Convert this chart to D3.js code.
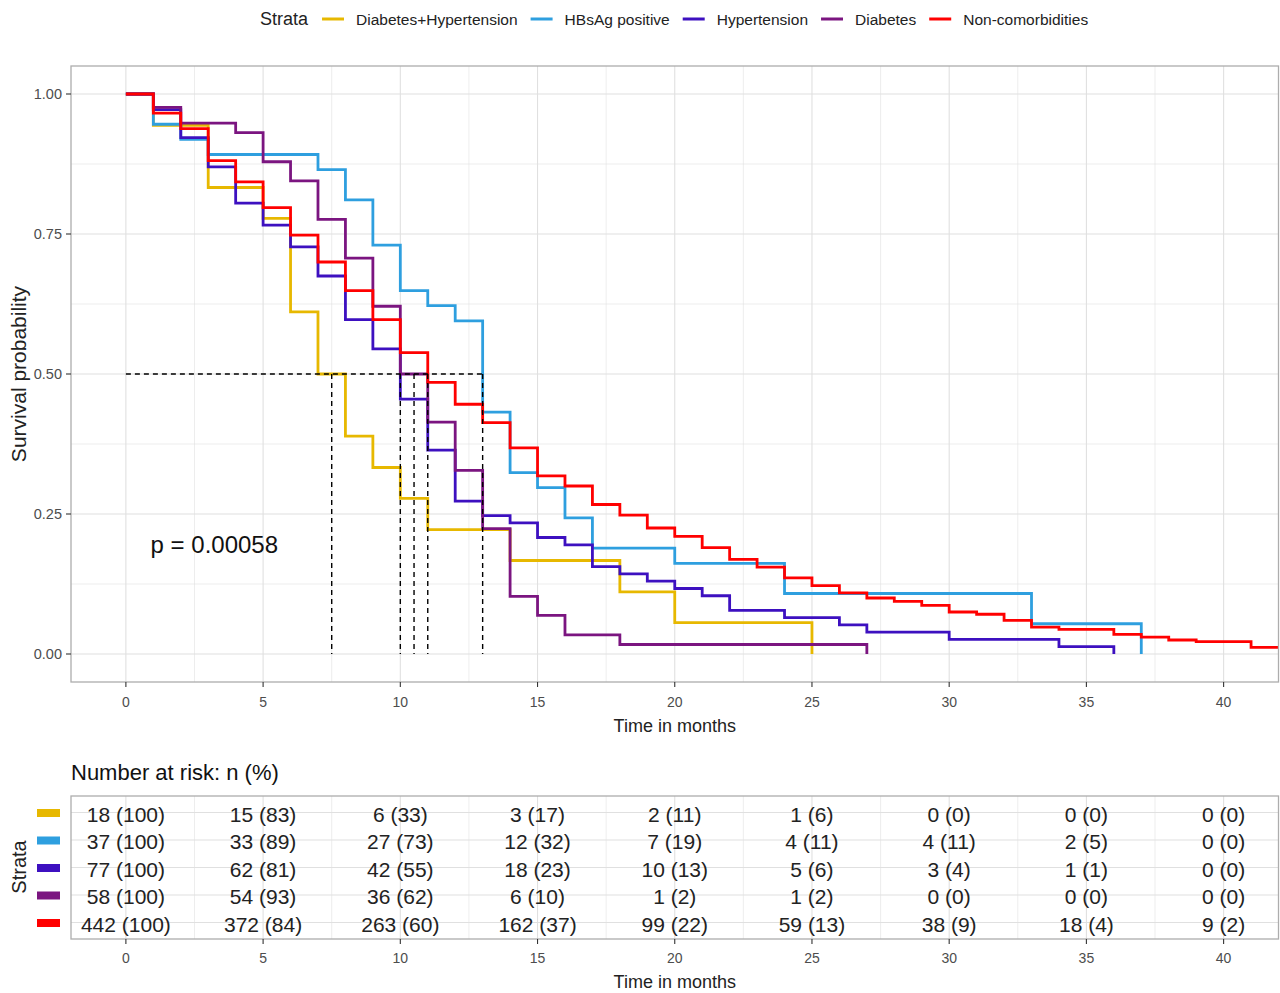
<!DOCTYPE html>
<html>
<head>
<meta charset="utf-8">
<script src="https://cdn.jsdelivr.net/npm/d3@7"></script>
<style>
body{margin:0;background:#fff;}
svg{font-family:"Liberation Sans",Arial,sans-serif;}
</style>
</head>
<body>
<svg id="chart" width="1280" height="993"></svg>
<script>
// strata, in the order ggplot draws them
var strata = ['Diabetes+Hypertension','HBsAg positive','Hypertension','Diabetes','Non-comorbidities']
var colors = ['#E7B800','#2E9FDF','#3D10C0','#7B1580','#FF0000']

// KM steps (time in months, survival)
var dhTime = [0,1,3,5,6,7,8,9,10,11,14,18,20,25]
var dhSurv = [1,0.944,0.833,0.778,0.611,0.5,0.389,0.333,0.278,0.222,0.167,0.111,0.056,0]
var hbTime = [0,1,2,3,7,8,9,10,11,12,13,14,15,16,17,20,24,33,37]
var hbSurv = [1,0.946,0.919,0.892,0.865,0.811,0.730,0.649,0.622,0.595,0.432,0.324,0.297,0.243,0.189,0.162,0.108,0.054,0]
var hyTime = [0,1,2,3,4,5,6,7,8,9,10,11,12,13,14,15,16,17,18,19,20,21,22,24,26,27,30,34,36]
var hySurv = [1,0.972,0.922,0.870,0.805,0.766,0.727,0.675,0.597,0.545,0.455,0.364,0.273,0.247,0.234,0.208,0.195,0.156,0.143,0.130,0.117,0.104,0.078,0.065,0.052,0.039,0.026,0.013,0]
var diTime = [0,1,2,4,5,6,7,8,9,10,11,12,13,14,15,16,18,27]
var diSurv = [1,0.976,0.948,0.931,0.879,0.845,0.776,0.707,0.621,0.5,0.414,0.328,0.224,0.103,0.069,0.034,0.017,0]
var ncTime = [0,1,2,3,4,5,6,7,8,9,10,11,12,13,14,15,16,17,18,19,20,21,22,23,24,25,26,27,28,29,30,31,32,33,34,36,37,38,39,41,43]
var ncSurv = [1,0.966,0.938,0.881,0.843,0.797,0.748,0.700,0.649,0.597,0.538,0.485,0.446,0.413,0.368,0.318,0.300,0.267,0.248,0.225,0.210,0.190,0.169,0.155,0.136,0.122,0.109,0.100,0.094,0.087,0.075,0.071,0.060,0.048,0.044,0.035,0.030,0.025,0.022,0.012,0.012]

var medianTimes = [7.5,10,10.5,11,13]
var pText = 'p = 0.00058'

// number at risk table
var riskTimes = [0,5,10,15,20,25,30,35,40]
var dhN = [18,15,6,3,2,1,0,0,0], dhPct = [100,83,33,17,11,6,0,0,0]
var hbN = [37,33,27,12,7,4,4,2,0], hbPct = [100,89,73,32,19,11,11,5,0]
var hyN = [77,62,42,18,10,5,3,1,0], hyPct = [100,81,55,23,13,6,4,1,0]
var diN = [58,54,36,6,1,1,0,0,0], diPct = [100,93,62,10,2,2,0,0,0]
var ncN = [442,372,263,162,99,59,38,18,9], ncPct = [100,84,60,37,22,13,9,4,2]

var xTicks = [0,5,10,15,20,25,30,35,40]
var yTicks = [0,0.25,0.5,0.75,1]

var curves = [[dhTime,dhSurv],[hbTime,hbSurv],[hyTime,hySurv],[diTime,diSurv],[ncTime,ncSurv]]
var riskN = [dhN,hbN,hyN,diN,ncN], riskPct = [dhPct,hbPct,hyPct,diPct,ncPct]

var svg = d3.select('#chart')
var L = 71, R = 1278.5, T = 66, B = 682
var x = d3.scaleLinear().domain([-2,42]).range([L,R])
var y = d3.scaleLinear().domain([-0.05,1.05]).range([B,T])
var gridCol = '#e0e0e0', borderCol = '#adadad', tickTxt = '#4d4d4d'

/*----- legend -----*/
var leg = svg.append('g')
var lx = 260
var lt = leg.append('text').attr('x',lx).attr('y',25).attr('font-size',18).attr('fill','#222').text('Strata')
lx += lt.node().getComputedTextLength() + 14
strata.forEach(function(s,i){
  leg.append('line').attr('x1',lx).attr('x2',lx+22).attr('y1',19).attr('y2',19)
    .attr('stroke',colors[i]).attr('stroke-width',3)
  var t = leg.append('text').attr('x',lx+34).attr('y',24.5).attr('font-size',15.5).attr('fill','#222').text(s)
  lx += 34 + t.node().getComputedTextLength() + 13
})

/*----- survival panel -----*/
var grid = svg.append('g')
d3.range(-0, 42.1, 2.5).forEach(function(v){
  var major = v % 5 == 0
  grid.append('line').attr('x1',x(v)).attr('x2',x(v)).attr('y1',T).attr('y2',B)
    .attr('stroke',gridCol).attr('stroke-width',major?1.1:0.6)
})
d3.range(0,1.01,0.125).forEach(function(v){
  var major = Math.abs(v*4-Math.round(v*4))<1e-6
  grid.append('line').attr('x1',L).attr('x2',R).attr('y1',y(v)).attr('y2',y(v))
    .attr('stroke',gridCol).attr('stroke-width',major?1.1:0.6)
})

svg.append('clipPath').attr('id','clip').append('rect').attr('x',L).attr('y',T).attr('width',R-L).attr('height',B-T)

var line = d3.line().x(function(d){return x(d[0])}).y(function(d){return y(d[1])}).curve(d3.curveStepAfter)
var cg = svg.append('g').attr('clip-path','url(#clip)')
curves.forEach(function(c,i){
  var pts = c[0].map(function(t,j){return [t,c[1][j]]})
  cg.append('path').attr('d',line(pts)).attr('fill','none').attr('stroke',colors[i]).attr('stroke-width',2.8)
})

// median survival lines
var mg = svg.append('g').attr('stroke','#000').attr('stroke-width',1.4).attr('stroke-dasharray','5,4')
mg.append('line').attr('x1',x(0)).attr('x2',x(d3.max(medianTimes))).attr('y1',y(0.5)).attr('y2',y(0.5))
medianTimes.forEach(function(m){
  mg.append('line').attr('x1',x(m)).attr('x2',x(m)).attr('y1',y(0.5)).attr('y2',y(0))
})

svg.append('text').attr('x',x(0.9)).attr('y',y(0.195)+8).attr('font-size',24).attr('fill','#111').text(pText)

svg.append('rect').attr('x',L).attr('y',T).attr('width',R-L).attr('height',B-T)
  .attr('fill','none').attr('stroke',borderCol).attr('stroke-width',1.3)

// axes
var yAxis = svg.append('g')
yTicks.forEach(function(v){
  yAxis.append('line').attr('x1',L-5).attr('x2',L).attr('y1',y(v)).attr('y2',y(v)).attr('stroke','#333').attr('stroke-width',1.1)
  yAxis.append('text').attr('x',L-9).attr('y',y(v)).attr('dy','0.35em').attr('text-anchor','end')
    .attr('font-size',14.5).attr('fill',tickTxt).text(d3.format('.2f')(v))
})
var xAxis = svg.append('g')
xTicks.forEach(function(v){
  xAxis.append('line').attr('x1',x(v)).attr('x2',x(v)).attr('y1',B).attr('y2',B+5).attr('stroke','#333').attr('stroke-width',1.1)
  xAxis.append('text').attr('x',x(v)).attr('y',B+25).attr('text-anchor','middle')
    .attr('font-size',14).attr('fill',tickTxt).text(v)
})
svg.append('text').attr('x',(L+R)/2).attr('y',732).attr('text-anchor','middle').attr('font-size',18).attr('fill','#222').text('Time in months')
svg.append('text').attr('transform','translate(26,374) rotate(-90)').attr('text-anchor','middle')
  .attr('font-size',21).attr('fill','#222').text('Survival probability')

/*----- risk table -----*/
var TT = 796, TB = 939
var row = d3.scalePoint().domain(strata).range([TT,TB]).padding(0.6)
svg.append('text').attr('x',L).attr('y',780).attr('font-size',22).attr('fill','#111').text('Number at risk: n (%)')

var tg = svg.append('g')
d3.range(0,42.1,2.5).forEach(function(v){
  tg.append('line').attr('x1',x(v)).attr('x2',x(v)).attr('y1',TT).attr('y2',TB)
    .attr('stroke',gridCol).attr('stroke-width',v%5==0?1.1:0.6)
})
strata.forEach(function(s){
  tg.append('line').attr('x1',L).attr('x2',R).attr('y1',row(s)).attr('y2',row(s)).attr('stroke',gridCol).attr('stroke-width',1.1)
})
strata.forEach(function(s,i){
  riskTimes.forEach(function(t,j){
    tg.append('text').attr('x',x(t)).attr('y',row(s)).attr('dy','0.45em').attr('text-anchor','middle')
      .attr('font-size',21).attr('fill','#222').text(riskN[i][j]+' ('+riskPct[i][j]+')')
  })
  tg.append('rect').attr('x',37).attr('y',row(s)-3.5).attr('width',23).attr('height',8).attr('fill',colors[i])
})
svg.append('rect').attr('x',L).attr('y',TT).attr('width',R-L).attr('height',TB-TT)
  .attr('fill','none').attr('stroke',borderCol).attr('stroke-width',1.3)
xTicks.forEach(function(v){
  svg.append('line').attr('x1',x(v)).attr('x2',x(v)).attr('y1',TB).attr('y2',TB+5).attr('stroke','#333').attr('stroke-width',1.1)
  svg.append('text').attr('x',x(v)).attr('y',TB+24).attr('text-anchor','middle')
    .attr('font-size',14).attr('fill',tickTxt).text(v)
})
svg.append('text').attr('x',(L+R)/2).attr('y',988).attr('text-anchor','middle').attr('font-size',18).attr('fill','#222').text('Time in months')
svg.append('text').attr('transform','translate(26,867) rotate(-90)').attr('text-anchor','middle')
  .attr('font-size',20).attr('fill','#222').text('Strata')
</script>
</body>
</html>
